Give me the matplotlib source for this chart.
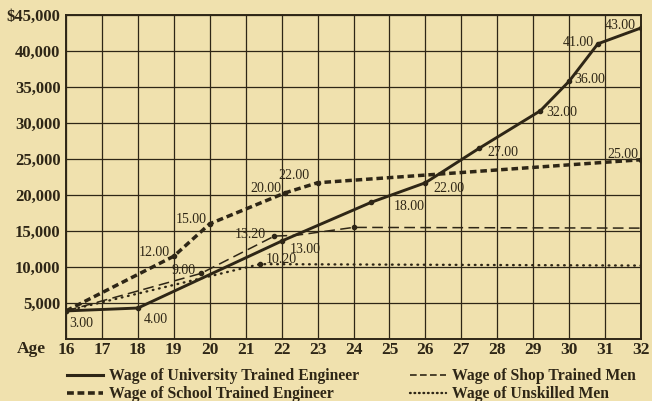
import matplotlib
matplotlib.use('Agg')
import matplotlib.pyplot as plt
from matplotlib.lines import Line2D

# wage curves (age, dollars)
univ_age = [16, 18, 22, 24.5, 26, 27.5, 29.2, 30, 30.8, 32]
univ_val = [3900, 4300, 13600, 19000, 21700, 26500, 31700, 35800, 41000, 43200]
univ_lbl = ["3.00", "4.00", "13.00", "18.00", "22.00", "27.00", "32.00", "36.00", "41.00", "43.00"]

school_age = [16, 19, 20, 22.1, 23, 32]
school_val = [3900, 11500, 16000, 20300, 21700, 24900]
school_lbl = [None, "12.00", "15.00", "20.00", "22.00", "25.00"]

shop_age = [16, 19.75, 21.8, 22.4, 24, 32]
shop_val = [3900, 9100, 14300, 14400, 15500, 15400]
shop_lbl = [None, "9.00", "13.20", None, None, None]

unsk_age = [16, 21.4, 32]
unsk_val = [3900, 10400, 10200]
unsk_lbl = [None, "10.20", None]

y_ticks = [5000, 10000, 15000, 20000, 25000, 30000, 35000, 40000, 45000]
y_tick_lbl = ["5,000", "10,000", "15,000", "20,000", "25,000", "30,000", "35,000", "40,000", "$45,000"]
ages = list(range(16, 33))

legend_names = ["Wage of University Trained Engineer", "Wage of School Trained Engineer",
                "Wage of Shop Trained Men", "Wage of Unskilled Men"]

PAPER = "#f0e1ae"
INK = "#2e2616"
SERIF = ["Liberation Serif", "DejaVu Serif"]

plt.rcParams['font.family'] = SERIF

fig = plt.figure(figsize=(6.52, 4.01), dpi=100, facecolor=PAPER)
ax = fig.add_axes([66 / 652, 1 - 339 / 401, 575 / 652, 324 / 401])
ax.set_facecolor(PAPER)

ax.set_xlim(16, 32)
ax.set_ylim(0, 45000)
ax.set_xticks(ages)
ax.set_xticklabels([str(a) for a in ages], fontsize=12.5, fontweight='bold', color=INK)
ax.set_yticks(y_ticks)
ax.set_yticklabels(y_tick_lbl, fontsize=12, fontweight='bold', color=INK)
ax.tick_params(length=0, pad=4)
ax.tick_params(axis='x', pad=2.5)
ax.grid(True, color=INK, lw=0.9)
for s in ax.spines.values():
    s.set_color(INK)
    s.set_linewidth(1.4)

fig.text(17 / 652, 1 - 349 / 401, "Age", fontsize=12.5, fontweight='bold', color=INK, va='center')

ax.plot(univ_age, univ_val, color=INK, lw=2.1, marker='o', ms=3, zorder=4)
ax.plot(school_age, school_val, color=INK, lw=2.5, dashes=(1.9, 1.1),
        marker='o', ms=3, zorder=4)
ax.plot(shop_age, shop_val, color=INK, lw=1.1, dashes=(7, 3.5), zorder=3)
ax.plot(unsk_age, unsk_val, color=INK, lw=1.7, dashes=(0.3, 2.4),
        dash_capstyle='round', zorder=3)
ax.plot([shop_age[1], shop_age[2], shop_age[4]], [shop_val[1], shop_val[2], shop_val[4]],
        ls='none', marker='o', ms=3, color=INK)
ax.plot([unsk_age[1]], [unsk_val[1]], ls='none', marker='o', ms=3, color=INK)

# label offsets in points (dx, dy) and alignment
univ_off = [(2, -9), (4, -8), (6, -6), (16, -3), (6, -4), (6, -3), (4, -1), (4, 1), (-3, 1), (-4, 2)]
univ_ha = ['left', 'left', 'left', 'left', 'left', 'left', 'left', 'left', 'right', 'right']
school_off = [None, (-3, 3), (-2, 3), (-3, 3), (-6, 5), (-2, 4)]
shop_off = [None, (-4, 2), (-6, 1), None, None, None]
unsk_off = [None, (4, 3), None]


def put_labels(xs, ys, labels, offs, has):
    for x, y, t, o, h in zip(xs, ys, labels, offs, has):
        if t is None:
            continue
        ax.annotate(t, (x, y), xytext=o, textcoords='offset points', ha=h, va='center',
                    fontsize=10, color=INK)


put_labels(univ_age, univ_val, univ_lbl, univ_off, univ_ha)
put_labels(school_age, school_val, school_lbl, school_off, ['right'] * 6)
put_labels(shop_age, shop_val, shop_lbl, shop_off, ['right'] * 6)
put_labels(unsk_age, unsk_val, unsk_lbl, unsk_off, ['left'] * 3)

handles = [Line2D([], [], color=INK, lw=2.2),
           Line2D([], [], color=INK, lw=2.6, dashes=(1.9, 1.0)),
           Line2D([], [], color=INK, lw=1.2, dashes=(4, 2)),
           Line2D([], [], color=INK, lw=1.7, dashes=(0.3, 1.6), dash_capstyle='round')]
leg = fig.legend(handles, legend_names, ncol=2, frameon=False, loc='upper left',
                 bbox_to_anchor=(67 / 652, 1 - 368 / 401), borderpad=0, borderaxespad=0,
                 handlelength=2.3, handletextpad=0.4, columnspacing=3.2, labelspacing=0.15,
                 prop={'family': SERIF, 'weight': 'bold', 'size': 11.3})
for t in leg.get_texts():
    t.set_color(INK)

fig.savefig("out.png", dpi=100, facecolor=PAPER)
